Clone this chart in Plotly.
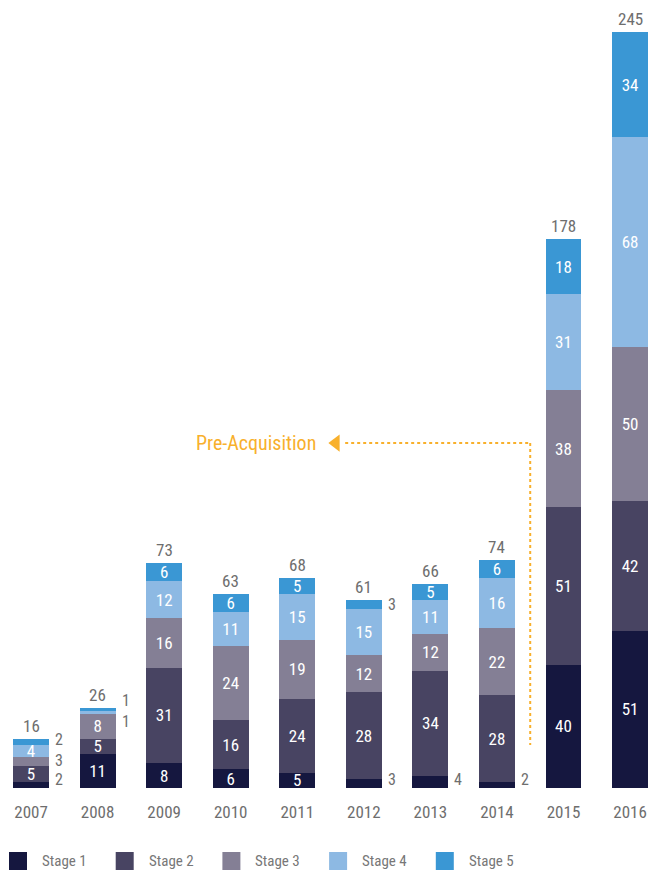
import plotly.graph_objects as go

YEARS = ["2007", "2008", "2009", "2010", "2011", "2012", "2013", "2014", "2015", "2016"]
STAGE_NAMES = ["Stage 1", "Stage 2", "Stage 3", "Stage 4", "Stage 5"]
STAGE1 = [2, 11, 8, 6, 5, 3, 4, 2, 40, 51]
STAGE2 = [5, 5, 31, 16, 24, 28, 34, 28, 51, 42]
STAGE3 = [3, 8, 16, 24, 19, 12, 12, 22, 38, 50]
STAGE4 = [4, 1, 12, 11, 15, 15, 11, 16, 31, 68]
STAGE5 = [2, 1, 6, 6, 5, 3, 5, 6, 18, 34]
ANNOTATION_TEXT = "Pre-Acquisition"

SERIES = [STAGE1, STAGE2, STAGE3, STAGE4, STAGE5]
COLORS = ["#15173f", "#484462", "#847f95", "#8db9e3", "#3a97d4"]
# segments labelled outside the bar (year index, stage index)
OUTSIDE = {(0, 0), (0, 2), (0, 4), (1, 3), (1, 4), (5, 0), (5, 4), (6, 0), (7, 0)}

FONT = "Roboto Condensed, Roboto, sans-serif"
GRAY = "#6e6e6e"
ORANGE = "#f8b02c"
NUM_SIZE = 17
OUT_SIZE = 16
MIN_GAP = 21

W, H = 663, 873
B = 85
PLOT_H = H - B
YMAX = 255.4

xs = list(range(len(YEARS)))
fig = go.Figure()
for s, (name, vals, col) in enumerate(zip(STAGE_NAMES, SERIES, COLORS)):
    texts = ["" if (i, s) in OUTSIDE else str(v) for i, v in enumerate(vals)]
    fig.add_trace(go.Bar(
        x=xs, y=vals, name=name, marker=dict(color=col, line=dict(width=0)),
        text=texts, textposition="inside", insidetextanchor="middle",
        textangle=0, constraintext="none",
        textfont=dict(family=FONT, size=NUM_SIZE, color="white"),
        hoverinfo="skip", showlegend=False,
    ))

annotations = []
totals = [sum(v) for v in zip(*SERIES)]
for i, t in enumerate(totals):
    annotations.append(dict(x=i, y=t, text=str(t), showarrow=False, xanchor="center",
                            yanchor="bottom", yshift=1,
                            font=dict(family=FONT, size=NUM_SIZE, color=GRAY)))

# outside labels
for i in xs:
    items = []
    base = 0
    for s in range(5):
        v = SERIES[s][i]
        if (i, s) in OUTSIDE:
            mid = base + v / 2
            ypx = mid * PLOT_H / YMAX
            if s == 0:
                ypx = max(ypx, 9)
            items.append([s, v, ypx])
        base += v
    # spread overlapping labels
    for k in range(1, len(items)):
        gap = items[k][2] - items[k - 1][2]
        if gap < MIN_GAP:
            if items[k - 1][0] == 0:
                items[k][2] = items[k - 1][2] + MIN_GAP
            else:
                c = (items[k][2] + items[k - 1][2]) / 2
                items[k - 1][2] = c - MIN_GAP / 2
                items[k][2] = c + MIN_GAP / 2
    for s, v, ypx in items:
        annotations.append(dict(x=i, y=0, text=str(v), showarrow=False, xanchor="center",
                                yanchor="middle", xshift=28, yshift=ypx, borderpad=0,
                                font=dict(family=FONT, size=OUT_SIZE, color=GRAY)))

# Pre-Acquisition callout
LINE_Y = 111.8
LINE_X = 7.5
LINE_BOTTOM = 13.9
annotations.append(dict(x=4.31, y=LINE_Y, text=ANNOTATION_TEXT, showarrow=False,
                        xanchor="right", yanchor="middle",
                        font=dict(family=FONT, size=20, color=ORANGE)))
fig.add_trace(go.Scatter(x=[4.58], y=[LINE_Y], mode="markers",
                         marker=dict(symbol="triangle-left", size=15, color=ORANGE),
                         hoverinfo="skip", showlegend=False))
shapes = [
    dict(type="line", xref="x", yref="y", x0=4.72, x1=LINE_X, y0=LINE_Y, y1=LINE_Y,
         line=dict(color=ORANGE, width=2, dash="dot")),
    dict(type="line", xref="x", yref="y", x0=LINE_X, x1=LINE_X, y0=LINE_Y, y1=LINE_BOTTOM,
         line=dict(color=ORANGE, width=2, dash="dot")),
]

# manual legend
leg_x0 = 9
leg_step = 106.7
for k, (name, col) in enumerate(zip(STAGE_NAMES, COLORS)):
    x0 = leg_x0 + k * leg_step
    shapes.append(dict(type="rect", xref="paper", yref="paper",
                       x0=x0 / W, x1=(x0 + 18) / W,
                       y0=(PLOT_H - 870) / PLOT_H, y1=(PLOT_H - 852) / PLOT_H,
                       fillcolor=col, line=dict(width=0)))
    annotations.append(dict(xref="paper", yref="paper", x=(x0 + 31) / W,
                            y=(PLOT_H - 861) / PLOT_H, text=name, showarrow=False,
                            xanchor="left", yanchor="middle",
                            font=dict(family=FONT, size=15, color="#777777")))

fig.update_layout(
    width=W, height=H,
    margin=dict(l=0, r=0, t=0, b=B),
    barmode="stack", bargap=0.46,
    plot_bgcolor="white", paper_bgcolor="white",
    uniformtext=dict(minsize=NUM_SIZE, mode="show"),
    xaxis=dict(range=[-0.466, 9.495], tickvals=xs, ticktext=YEARS, showgrid=False,
               zeroline=False, showline=False, ticks="", ticklabelstandoff=12,
               tickfont=dict(family=FONT, size=NUM_SIZE, color=GRAY), fixedrange=True),
    yaxis=dict(range=[0, YMAX], visible=False, fixedrange=True),
    annotations=annotations, shapes=shapes, showlegend=False,
)
fig.write_html("out.html", config={"displayModeBar": False},
               post_script="document.body.style.margin='0';document.body.style.overflow='hidden';")
